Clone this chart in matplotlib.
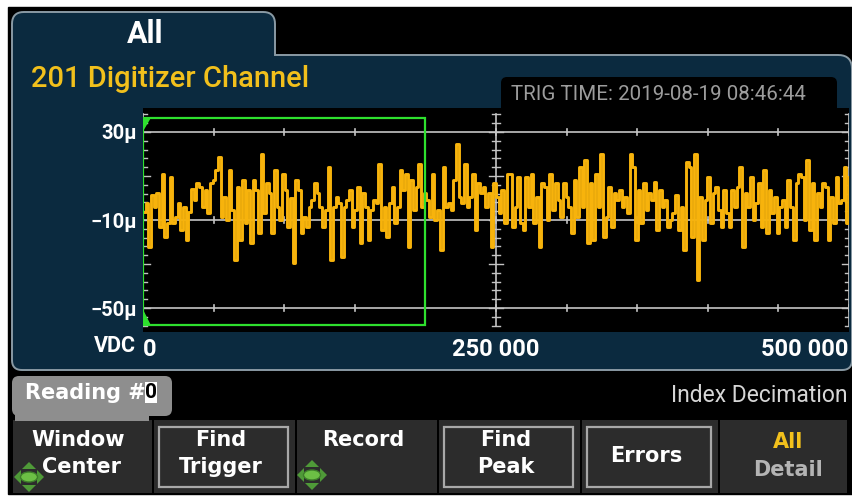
import matplotlib
matplotlib.use("Agg")
import matplotlib.pyplot as plt
import numpy as np
from matplotlib.patches import Rectangle, Polygon, FancyBboxPatch, Ellipse

FONT = ["Roboto", "DejaVu Sans"]
KEYFONT = ["DejaVu Sans"]
W, H = 853, 497

# trace readings in µV, left to right
trace_uv = [
    -6.2, -2.5, -22.1, 1.3, -4.0, 2.1, -13.0, 11.1, -17.5, -11.5, 9.6, -11.5, -8.5, -2.5,
    -14.5, -4.0, -19.0, -6.2, 4.3, -1.0, 6.6, 5.1, -4.0, 3.6, -7.0, 6.6, 8.1, 12.6, 18.7,
    -8.5, 0.6, -10.0, 12.6, -5.5, -28.1, 5.1, -19.0, 8.1, -11.5, 3.6, -20.6, 8.1, 3.6,
    -16.0, 20.2, -7.0, 6.6, 2.1, -16.0, 12.6, -4.0, -10.0, 11.1, 3.6, -13.0, -0.2, -29.6,
    8.1, 3.6, -16.0, -8.5, -13.0, -4.0, -1.0, 6.6, 2.1, -4.0, -13.0, -5.5, 14.1, -28.1,
    -4.0, 0.6,
    -2.5, -26.6, -4.0, -1.0, 3.6, -13.0, -5.5, 5.1, -20.6, 2.1, -4.0, -19.0, -5.5, -1.0,
    -2.5, 15.6, -14.5, -4.0, -17.5, -2.5, 5.1, -11.5, -4.0, 12.6, 3.6, 11.1, -22.1, 8.1,
    -5.5, 5.1, 15.6, -4.0, 2.1, -1.0, -8.5, 11.1, -10.0, -5.5, -23.6, 14.1, -4.0, -2.5,
    -5.5, 8.1, 24.7, 0.6, -2.5, 15.6, -4.0, 0.6, 11.1, -14.5, 6.6, 2.1, 5.1, -4.0, 2.1,
    -22.1, 6.6, 0.6, -7.0, 3.6, -11.5, 11.1,
    11.1, -13.0, -4.0, 9.6, -11.5, -14.5, 9.6, -4.0, 11.1, -11.5, 0.6, -22.1, 6.6, 5.1,
    -10.0, 11.1, -5.5, 6.6, -1.0, -8.5, 6.6, 0.6, -4.0, -16.0, 8.1, -8.5, 14.1, -4.0,
    17.2, -20.6, 6.6, -19.0, 11.1, -4.0, 20.2, -17.5, -8.5, 5.1, -13.0, 2.1, -1.0, 3.6,
    -4.0, 0.6, -7.0, 20.2, 14.1, -19.0, 3.6, -11.5, 6.6, -5.5, 2.1, -1.0, 7.3, -14.5,
    3.6, -4.0, -1.0, -13.0, -10.0,
    -7.0, 1.3, -14.5, -4.0, -23.6, 16.4, 14.1, -17.5, 20.2, -37.1, 0.6, -19.0, -1.0, 9.6,
    -11.5, 2.1, 5.1, -5.5, -13.0, 3.6, -7.0, -13.0, 3.6, -4.0, 5.1, 14.1, -22.1, 2.1,
    -4.0, 9.6, -10.0, -2.5, 6.6, -13.0, 12.6, -16.0, 3.6, -7.0, 0.6, -16.0, -4.0, -1.0,
    -13.0, 8.1, -4.0, -19.0, 6.6, 11.1, 9.6, -10.0, 17.2, -14.5, 6.6, -19.0, 2.1, -4.0,
    6.6, 5.1, -19.0, 0.6, -11.5, 9.6, -2.5, -1.0, 14.1, -11.5, 9.6,
]
record_len = 500000
x_ticks = [0, 250000, 500000]
x_labels = ["0", "250 000", "500 000"]
y_ticks = [30, -10, -50]
y_labels = ["30µ", "−10µ", "−50µ"]
window = (0, 200000)
softkeys = ["Window\nCenter", "Find\nTrigger", "Record", "Find\nPeak", "Errors", "All\nDetail"]
boxed = [False, True, False, True, True, False]

NAVY = "#0b2a3f"
EDGE = "#8a9aa4"
TRACE = "#f7b30c"
GREEN = "#2ee02e"


def rounded(pts, radii, n=10):
    pts = [np.array(p, float) for p in pts]
    out = []
    for i, (p1, r) in enumerate(zip(pts, radii)):
        p0, p2 = pts[i - 1], pts[(i + 1) % len(pts)]
        if r == 0:
            out.append(p1); continue
        a = p1 + (p0 - p1) / np.linalg.norm(p0 - p1) * r
        b = p1 + (p2 - p1) / np.linalg.norm(p2 - p1) * r
        for t in np.linspace(0, 1, n):
            out.append((1 - t) ** 2 * a + 2 * (1 - t) * t * p1 + t ** 2 * b)
    return out


fig = plt.figure(figsize=(W / 100, H / 100), dpi=100, facecolor="white")
bg = fig.add_axes([0, 0, 1, 1])
bg.set_xlim(0, W); bg.set_ylim(H, 0); bg.axis("off")
bg.add_patch(Rectangle((8, 7), W - 8, 487, color="black", zorder=0))

# main panel with "All" tab
bg.add_patch(Polygon(rounded([(12, 370), (12, 12), (275, 12), (275, 55), (852, 55), (852, 370)],
                             [10, 12, 12, 0, 14, 10]),
                     closed=True, facecolor=NAVY, edgecolor=EDGE, lw=1.4, zorder=1))
bg.text(145, 34, "All", color="white", fontsize=22, fontweight="bold", family=FONT,
        ha="center", va="center", zorder=2)
bg.text(31, 87, "201 Digitizer Channel", color="#f2c01c", fontsize=21, fontweight="medium",
        family=FONT, ha="left", va="baseline", zorder=2)
bg.add_patch(FancyBboxPatch((501, 77), 336, 40, boxstyle="round,pad=0,rounding_size=6",
                            facecolor="black", edgecolor="none", zorder=2))
bg.text(511, 95, "TRIG TIME: 2019-08-19 08:46:44", color="#9c9c9c", fontsize=14.8,
        family=FONT, ha="left", va="center", zorder=3)
bg.text(136, 346, "VDC", color="white", fontsize=15.5, fontweight="bold", family=FONT,
        ha="right", va="center", zorder=2)

# reading box and status line
bg.add_patch(FancyBboxPatch((12, 376), 160, 40, boxstyle="round,pad=0,rounding_size=7",
                            facecolor="#8e8e8e", edgecolor="none", zorder=2))
bg.add_patch(Rectangle((15, 405), 134, 16, facecolor="#8e8e8e", edgecolor="none", zorder=2))
bg.text(25, 393, "Reading #", color="white", fontsize=15, fontweight="bold", family=KEYFONT,
        ha="left", va="center", zorder=3)
bg.add_patch(Rectangle((145, 382), 12, 21, facecolor="white", edgecolor="none", zorder=3))
bg.text(151, 393, "0", color="black", fontsize=15, fontweight="bold", family=FONT,
        ha="center", va="center", zorder=4)
bg.text(848, 396, "Index Decimation", color="#d6d6d6", fontsize=16.5, family=FONT,
        ha="right", va="center", zorder=2)

# softkeys
edges = [13, 154, 297, 439, 582, 720, 849]
for i, (lab, bx) in enumerate(zip(softkeys, boxed)):
    x0, x1 = edges[i], edges[i + 1] - 2
    bg.add_patch(Rectangle((x0, 420), x1 - x0, 73, facecolor="#2c2c2c", edgecolor="none", zorder=1))
    if bx:
        bg.add_patch(Rectangle((x0 + 5, 427), x1 - x0 - 12, 60, facecolor="none",
                               edgecolor="#a8a8a8", lw=1.6, zorder=2))
    cx = (x0 + x1) / 2
    lines = lab.split("\n")
    kw = dict(fontsize=15, fontweight="bold", family=KEYFONT, ha="center", va="center", zorder=3)
    if lab == "Errors":
        bg.text(cx - 4, 456, lines[0], color="white", **kw)
    elif lab.startswith("All"):
        bg.text(cx + 5, 442, lines[0], color="#f2c01c", **kw)
        bg.text(cx + 5, 470, lines[1], color="#b4b4b4", **kw)
    else:
        for j, ln in enumerate(lines):
            bg.text(cx - 4 + (3 * j if i == 0 else 0), 440 + 27 * j, ln, color="white", **kw)

# green navigation icons
for cx, cy in [(29, 477), (312, 475)]:
    for dx, dy in [(0, -1), (0, 1), (-1, 0), (1, 0)]:
        tip = (cx + 15 * dx, cy + 15 * dy)
        px, py = -dy, dx
        base = (cx + 8 * dx, cy + 8 * dy)
        bg.add_patch(Polygon([tip, (base[0] + 7 * px, base[1] + 7 * py),
                              (base[0] - 7 * px, base[1] - 7 * py)],
                             facecolor="#4f9a38", edgecolor="none", zorder=4))
    bg.add_patch(Ellipse((cx, cy), 17, 10, facecolor="#6cbf45", edgecolor="#3d7d2a",
                         lw=1, zorder=5))

# plot area
l, r, t, b = 143, 849, 108, 332
ax = fig.add_axes([l / W, 1 - b / H, (r - l) / W, (b - t) / H])
ax.set_facecolor("black")
for s in ax.spines.values():
    s.set_visible(False)
ax.set_xlim(0, record_len)
ax.set_ylim(-60.9, 40.9)
px_x = record_len / (r - l)
px_y = 101.8 / (b - t)

grid_c = "#c4c4c4"
for yv in y_ticks:
    ax.axhline(yv, color=grid_c, lw=1.2, zorder=2)
    for xv in np.arange(0, record_len + 1, 50000):
        ax.plot([xv, xv], [yv - 3 * px_y, yv + 3 * px_y], color=grid_c, lw=1.2, zorder=2)
lad = np.arange(-58, 39, 4)
for xv, sides in [(0, (0, 1)), (record_len / 2, (-1, 1)), (record_len, (-1, 0))]:
    ax.plot([xv, xv], [lad[0], lad[-1]], color=grid_c, lw=1.2, zorder=2)
    for yv in lad:
        ln = 7 if (yv - 10) % 20 == 0 else 4
        ax.plot([xv + sides[0] * ln * px_x, xv + sides[1] * ln * px_x], [yv, yv],
                color=grid_c, lw=1.0, zorder=2)

idx = np.linspace(0, record_len, len(trace_uv))
ax.step(idx, trace_uv, where="post", color=TRACE, lw=2.1, zorder=3)

# zoom window
wt, wb = 40.9 - 10 * px_y, -60.9 + 7 * px_y
ax.add_patch(Rectangle((window[0], wb), window[1] - window[0], wt - wb, facecolor="none",
                       edgecolor=GREEN, lw=1.6, zorder=4))
ax.add_patch(Polygon([(0, wt), (7 * px_x, wt), (0, wt - 12 * px_y)], color=GREEN, zorder=5))
ax.add_patch(Polygon([(0, wb), (7 * px_x, wb), (0, wb + 14 * px_y)], color=GREEN, zorder=5))

ax.set_yticks(y_ticks, y_labels, fontsize=14.5, fontweight="bold", family=FONT, color="white")
ax.set_xticks(x_ticks, x_labels, fontsize=17, fontweight="bold", family=FONT, color="white")
ax.tick_params(length=0, pad=4)
ax.tick_params(axis="x", pad=4)
for lab, ha in zip(ax.get_xticklabels(), ["left", "center", "right"]):
    lab.set_ha(ha)

fig.savefig("out.png", dpi=100, facecolor="white")
